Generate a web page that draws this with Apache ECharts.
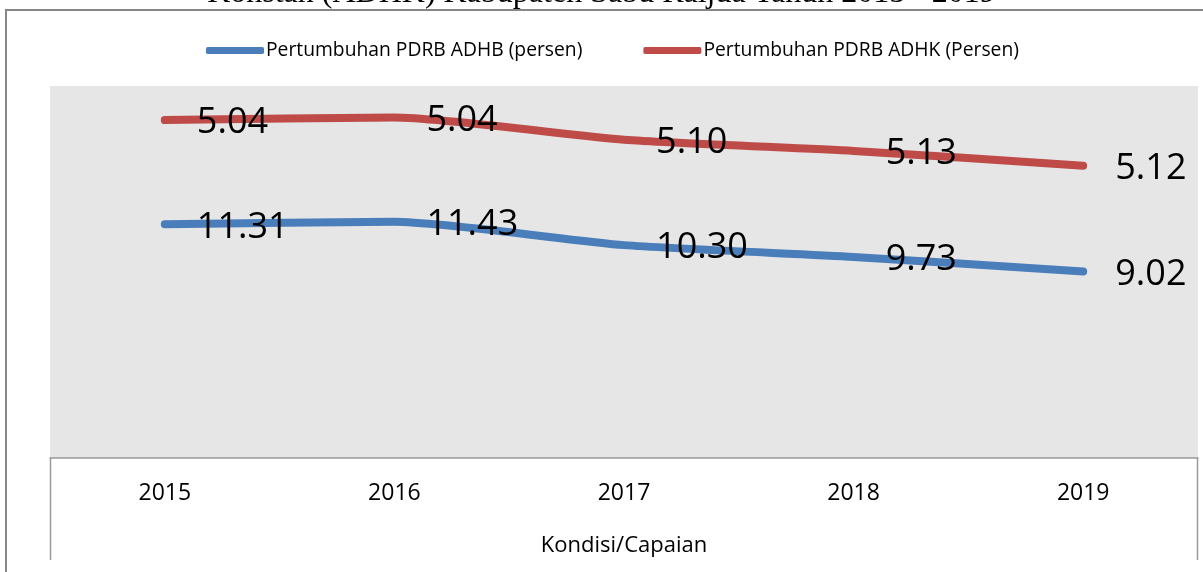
<!DOCTYPE html>
<html>
<head>
<meta charset="utf-8">
<script src="https://cdn.jsdelivr.net/npm/echarts@6/dist/echarts.min.js"></script>
<style>
  html, body { margin: 0; padding: 0; background: #fff; }
  #chart { width: 1203px; height: 572px; }
</style>
</head>
<body>
<div id="chart"></div>
<script>
  // data
  var years = ['2015', '2016', '2017', '2018', '2019'];
  var adhb = [11.31, 11.43, 10.30, 9.73, 9.02];   // Pertumbuhan PDRB ADHB (persen)
  var adhk = [5.04, 5.04, 5.10, 5.13, 5.12];      // Pertumbuhan PDRB ADHK (Persen)

  var font = '"Open Sans", "Noto Sans", sans-serif';

  var labelStyle = {
      show: true,
      position: 'right',
      distance: 32,
      offset: [0, 3],
      fontFamily: font,
      fontSize: 36,
      color: '#000',
      formatter: function (p) { return p.value.toFixed(2); }
  };

  var option = {
      backgroundColor: '#fff',
      animation: false,
      color: ['#4a7ebb', '#be4b48'],
      title: {
          text: 'Konstan (ADHK) Kabupaten Sabu Raijua Tahun 2015 - 2019',
          left: 'center',
          top: -27,
          textStyle: {
              fontFamily: '"Liberation Serif", serif',
              fontWeight: 'normal',
              fontSize: 32,
              color: '#000'
          }
      },
      legend: {
          left: 201,
          top: 36,
          icon: 'roundRect',
          itemWidth: 58,
          itemHeight: 7,
          itemGap: 61,
          textStyle: {
              fontFamily: font,
              fontSize: 19.3,
              color: '#000',
              padding: [0, 0, 0, -3]
          },
          data: ['Pertumbuhan PDRB ADHB (persen)', 'Pertumbuhan PDRB ADHK (Persen)']
      },
      grid: {
          left: 50,
          right: 5,
          top: 86,
          bottom: 114,
          show: true,
          backgroundColor: '#e6e6e6',
          borderWidth: 0
      },
      xAxis: {
          type: 'category',
          data: years,
          boundaryGap: true,
          axisLine: { lineStyle: { color: '#9a9a9a', width: 1.5 } },
          axisTick: { show: false },
          axisLabel: {
              margin: 24,
              fontFamily: font,
              fontSize: 23,
              color: '#000'
          },
          name: 'Kondisi/Capaian',
          nameLocation: 'middle',
          nameGap: 77,
          nameTextStyle: {
              fontFamily: font,
              fontSize: 22,
              color: '#000'
          }
      },
      yAxis: {
          type: 'value',
          min: 0,
          max: 18,
          show: false,
          splitLine: { show: false }
      },
      graphic: [
          {
              type: 'rect',
              shape: { x: 6, y: 10, width: 1300, height: 700 },
              style: { fill: 'none', stroke: '#868686', lineWidth: 2 },
              silent: true
          },
          {
              type: 'line',
              shape: { x1: 50.5, y1: 458, x2: 50.5, y2: 560 },
              style: { stroke: '#9a9a9a', lineWidth: 1.5 },
              silent: true
          },
          {
              type: 'line',
              shape: { x1: 1197.5, y1: 458, x2: 1197.5, y2: 560 },
              style: { stroke: '#9a9a9a', lineWidth: 1.5 },
              silent: true
          }
      ],
      series: [
          {
              name: 'Pertumbuhan PDRB ADHB (persen)',
              type: 'line',
              stack: 'pdrb',
              data: adhb,
              smooth: 0.2,
              symbol: 'circle',
              symbolSize: 0.1,
              lineStyle: { width: 8, cap: 'round', join: 'round' },
              label: labelStyle
          },
          {
              name: 'Pertumbuhan PDRB ADHK (Persen)',
              type: 'line',
              stack: 'pdrb',
              data: adhk,
              smooth: 0.2,
              symbol: 'circle',
              symbolSize: 0.1,
              lineStyle: { width: 8, cap: 'round', join: 'round' },
              label: labelStyle
          }
      ]
  };

  var chart = echarts.init(document.getElementById('chart'));
  chart.setOption(option);
</script>
</body>
</html>
